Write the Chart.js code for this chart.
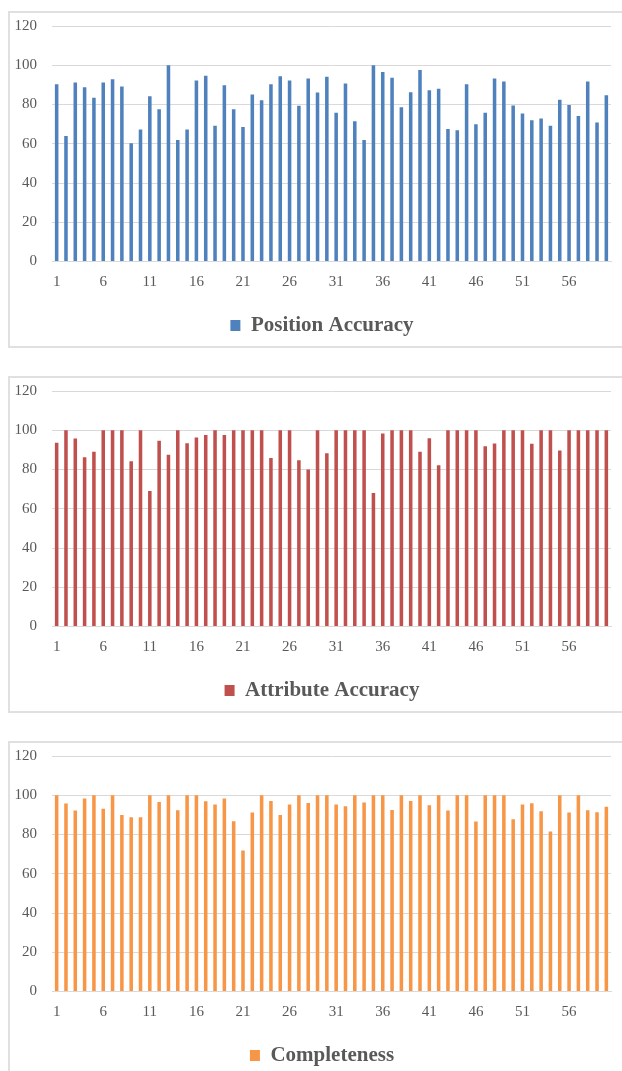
<!DOCTYPE html>
<html>
<head>
<meta charset="utf-8">
<script src="https://cdn.jsdelivr.net/npm/chart.js@4/dist/chart.umd.min.js"></script>
<style>
    html, body { margin: 0; padding: 0; background: #fff; overflow: hidden; }
    body { width: 622px; height: 1071px; position: relative; }
    .box {
        position: absolute;
        left: 8px;
        width: 660px;
        height: 337px;
        border: 2px solid #e0e0e0;
        box-sizing: border-box;
        background: #fff;
    }
    .box canvas { position: absolute; left: 0; top: 0; }
</style>
</head>
<body>
<div class="box" style="top:11px"><canvas id="positionChart" width="640" height="333"></canvas></div>
<div class="box" style="top:376px"><canvas id="attributeChart" width="640" height="333"></canvas></div>
<div class="box" style="top:741px"><canvas id="completenessChart" width="640" height="333"></canvas></div>
<script>
// categories (sample number)
const categories = [
    1, 2, 3, 4, 5, 6, 7, 8, 9, 10,
    11, 12, 13, 14, 15, 16, 17, 18, 19, 20,
    21, 22, 23, 24, 25, 26, 27, 28, 29, 30,
    31, 32, 33, 34, 35, 36, 37, 38, 39, 40,
    41, 42, 43, 44, 45, 46, 47, 48, 49, 50,
    51, 52, 53, 54, 55, 56, 57, 58, 59, 60
];

// y tick labels
const yTicks = [0, 20, 40, 60, 80, 100, 120];

const positionAccuracy = [
    90.3, 63.9, 91.2, 88.8, 83.4, 91.2, 92.9, 89.2, 60.2, 67.3,
    84.2, 77.6, 100, 61.9, 67.3, 92.2, 94.7, 69.2, 89.8, 77.6,
    68.5, 85.1, 82.2, 90.3, 94.4, 92.2, 79.3, 93.2, 86.1, 94.1,
    75.8, 90.7, 71.5, 61.9, 100, 96.6, 93.6, 78.6, 86.3, 97.6,
    87.3, 88.0, 67.5, 66.9, 90.3, 70.0, 75.8, 93.2, 91.7, 79.5,
    75.4, 72.0, 72.9, 69.2, 82.4, 79.8, 74.2, 91.7, 70.8, 84.7
];

const attributeAccuracy = [
    93.6, 100, 95.8, 86.3, 89.0, 100, 100, 100, 84.2, 100,
    69.0, 94.6, 87.5, 100, 93.4, 96.3, 97.6, 100, 97.6, 100,
    100, 100, 100, 85.8, 100, 100, 84.7, 80.0, 100, 88.3,
    100, 100, 100, 100, 68.0, 98.3, 100, 100, 100, 89.0,
    95.9, 82.2, 100, 100, 100, 100, 91.9, 93.2, 100, 100,
    100, 93.1, 100, 100, 89.7, 100, 100, 100, 100, 100
];

const completeness = [
    100, 95.8, 92.2, 98.3, 100, 93.1, 100, 90.0, 88.8, 88.8,
    100, 96.6, 100, 92.4, 100, 100, 96.9, 95.3, 98.3, 86.8,
    71.9, 91.2, 100, 97.1, 90.0, 95.3, 100, 96.1, 100, 100,
    95.3, 94.4, 100, 96.3, 100, 100, 92.5, 100, 97.1, 100,
    94.9, 100, 92.2, 100, 100, 86.6, 100, 100, 100, 87.8,
    95.3, 95.9, 91.9, 81.5, 100, 91.2, 100, 92.4, 91.4, 94.1
];

const FONT = '"Liberation Serif", "Times New Roman", serif';
const TEXT_COLOR = '#595959';
const GRID_COLOR = '#d9d9d9';

// nudge the legend so it sits centred in the visible box
const legendShift = {
    id: 'legendShift',
    afterLayout(chart) {
        if (!chart.legend) return;
        chart.legend.left += 11.5;
        chart.legend.right += 11.5;
    }
};

// Build one bar chart
function createBarChart(canvasId, label, values, color) {
    const ctx = document.getElementById(canvasId);
    if (!ctx) return null;

    return new Chart(ctx, {
        type: 'bar',
        data: {
            labels: categories,
            datasets: [{
                label: label,
                data: values,
                backgroundColor: color,
                borderWidth: 0,
                barPercentage: 0.38,
                categoryPercentage: 1
            }]
        },
        options: {
            responsive: false,
            animation: false,
            layout: {
                padding: { top: 13, right: 39, bottom: 0, left: 0 }
            },
            plugins: {
                tooltip: { enabled: false },
                legend: {
                    position: 'bottom',
                    labels: {
                        boxWidth: 10,
                        boxHeight: 11,
                        padding: 10,
                        color: TEXT_COLOR,
                        font: { family: FONT, size: 21, weight: 'bold' }
                    }
                }
            },
            scales: {
                x: {
                    afterFit: function (scale) { scale.height += 9.5; },
                    grid: { display: false },
                    border: { display: true, color: GRID_COLOR, width: 1 },
                    ticks: {
                        autoSkip: false,
                        maxRotation: 0,
                        padding: 4,
                        color: TEXT_COLOR,
                        font: { family: FONT, size: 15 },
                        callback: function (value, index) {
                            return index % 5 === 0 ? categories[index] : '';
                        }
                    }
                },
                y: {
                    min: yTicks[0],
                    max: yTicks[yTicks.length - 1],
                    afterFit: function (scale) {
                        scale.width = 42;
                        scale.paddingTop = 0;
                        scale.paddingBottom = 0;
                    },
                    afterBuildTicks: function (scale) {
                        scale.ticks = yTicks.map(v => ({ value: v }));
                    },
                    grid: { color: GRID_COLOR, lineWidth: 1, drawTicks: false },
                    border: { display: false },
                    ticks: {
                        padding: 15,
                        color: TEXT_COLOR,
                        font: { family: FONT, size: 15 }
                    }
                }
            }
        },
        plugins: [legendShift]
    });
}

const charts = {
    position: createBarChart('positionChart', 'Position Accuracy', positionAccuracy, '#4f81bd'),
    attribute: createBarChart('attributeChart', 'Attribute Accuracy', attributeAccuracy, '#c0504d'),
    completeness: createBarChart('completenessChart', 'Completeness', completeness, '#f79646')
};
</script>
</body>
</html>
